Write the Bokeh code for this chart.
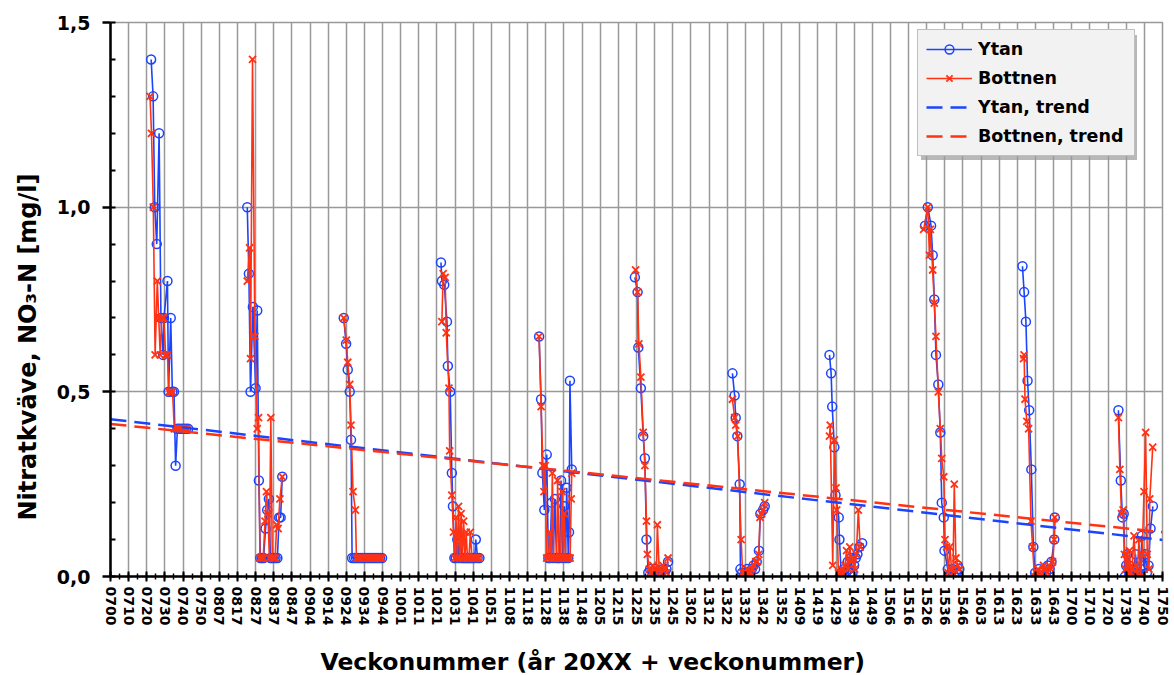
import math
import numpy as np
from bokeh.plotting import figure
from bokeh.models import Range1d, FixedTicker, CustomJSTickFormatter, Legend, LegendItem, Title
from bokeh.embed import file_html
from bokeh.resources import INLINE

NaN = float("nan")

# x tick labels (år+vecka), one per 10 weeks starting at week index 0
tick_labels = ["0700", "0710", "0720", "0730", "0740", "0750", "0807", "0817", "0827", "0837",
               "0847", "0904", "0914", "0924", "0934", "0944", "1001", "1011", "1021", "1031",
               "1041", "1051", "1108", "1118", "1128", "1138", "1148", "1205", "1215", "1225",
               "1235", "1245", "1302", "1312", "1322", "1332", "1342", "1352", "1409", "1419",
               "1429", "1439", "1449", "1506", "1516", "1526", "1536", "1546", "1603", "1613",
               "1623", "1633", "1643", "1700", "1710", "1720", "1730", "1740", "1750"]

# Ytan (surface) — week index since 0700, NaN separates seasons
ytan_week = [
    22.4, 23.5, 24.4, 25.5, 26.8, 27.8, 29.0, 29.5, 31.4, 32.0, 33.2, 34.1, 35.0, 35.9, 36.9, 38.0, 39.2, 40.4, 41.6, 42.8, NaN,
    75.4, 76.3, 77.2, 78.5, 80.0, 80.9, 81.8, 82.6, 83.5, 84.4, 85.5, 86.4, 87.3, 88.2, 89.1, 90.0, 91.0, 92.0, 93.0, 93.8, 94.7, NaN,
    128.6, 129.9, 130.8, 131.9, 132.6, 133.2, 134.3, 135.4, 136.5, 137.6, 138.7, 139.8, 140.9, 142.0, 143.1, 144.2, 145.3, 146.4, 147.5, 148.6, 149.7, NaN,
    182.2, 182.7, 184.0, 185.5, 186.0, 187.3, 188.2, 188.8, 189.6, 190.4, 191.2, 192.0, 192.8, 193.6, 194.4, 195.2, 196.0, 196.8, 197.6, 198.4, 199.2, 200.0, 200.8, 201.4, 202.4, 203.4, NaN,
    236.3, 237.4, 238.1, 239.2, 240.5, 241.4, 242.3, 243.2, 244.1, 245.0, 245.9, 246.8, 247.6, 248.4, 249.3, 250.2, 250.9, 251.5, 252.4, 252.8, 253.3, 254.3, NaN,
    289.1, 290.6, 291.0, 292.4, 293.7, 294.6, 295.5, 296.5, 297.5, 298.5, 299.5, 300.5, 301.5, 302.5, 303.5, 304.5, 305.5, 306.5, 307.4, NaN,
    342.9, 344.1, 344.7, 345.6, 346.9, 347.3, 348.2, 349.1, 350.0, 350.9, 351.8, 352.7, 353.6, 354.5, 355.4, 356.3, 357.5, 358.3, 359.8, 360.7, NaN,
    396.4, 397.3, 397.9, 399.1, 399.7, 401.5, 401.9, 402.8, 403.7, 404.6, 405.5, 406.4, 407.3, 408.2, 409.1, 410.0, 410.9, 411.8, 412.9, 414.4, NaN,
    449.1, 450.6, 452.4, 453.3, 454.2, 455.1, 456.4, 457.5, 458.3, 459.4, 459.8, 461.6, 462.5, 463.4, 464.3, 465.2, 466.1, 467.1, 468.0, NaN,
    502.8, 503.7, 504.7, 505.6, 506.5, 507.7, 508.8, 509.8, 510.8, 511.8, 512.8, 513.8, 514.8, 515.8, 516.8, 517.8, 518.8, 520.3, 520.6, NaN,
    555.7, 557.0, 557.9, 558.6, 559.3, 560.0, 560.6, 561.5, 562.4, 563.3, 564.2, 565.1, 566.0, 566.9, 567.8, 568.7, 569.6, 570.5, 571.4, 572.3, 573.4, 574.7,
]
ytan_value = [
    1.40, 1.30, 1.00, 0.90, 1.20, 0.70, 0.60, 0.70, 0.80, 0.50, 0.70, 0.50, 0.50, 0.30, 0.40, 0.40, 0.40, 0.40, 0.40, 0.40, NaN,
    1.00, 0.82, 0.50, 0.73, 0.51, 0.72, 0.26, 0.05, 0.05, 0.05, 0.13, 0.18, 0.21, 0.05, 0.05, 0.05, 0.05, 0.05, 0.16, 0.16, 0.27, NaN,
    0.70, 0.63, 0.56, 0.50, 0.37, 0.05, 0.05, 0.05, 0.05, 0.05, 0.05, 0.05, 0.05, 0.05, 0.05, 0.05, 0.05, 0.05, 0.05, 0.05, 0.05, NaN,
    0.85, 0.80, 0.79, 0.69, 0.57, 0.50, 0.28, 0.19, 0.05, 0.05, 0.10, 0.05, 0.11, 0.05, 0.05, 0.05, 0.05, 0.05, 0.05, 0.05, 0.05, 0.05, 0.05, 0.10, 0.05, 0.05, NaN,
    0.65, 0.48, 0.28, 0.18, 0.33, 0.05, 0.05, 0.20, 0.05, 0.21, 0.05, 0.05, 0.05, 0.26, 0.05, 0.19, 0.05, 0.24, 0.05, 0.12, 0.53, 0.29, NaN,
    0.81, 0.77, 0.62, 0.51, 0.38, 0.32, 0.10, 0.01, 0.02, 0.00, 0.01, 0.02, 0.01, 0.00, 0.01, 0.02, 0.01, 0.02, 0.04, NaN,
    0.55, 0.49, 0.43, 0.38, 0.25, 0.02, 0.01, 0.00, 0.01, 0.02, 0.01, 0.00, 0.02, 0.03, 0.02, 0.04, 0.07, 0.17, 0.18, 0.19, NaN,
    0.60, 0.55, 0.46, 0.35, 0.22, 0.16, 0.10, 0.01, 0.00, 0.02, 0.01, 0.04, 0.02, 0.05, 0.01, 0.03, 0.05, 0.06, 0.08, 0.09, NaN,
    0.95, 1.00, 0.95, 0.87, 0.75, 0.60, 0.52, 0.39, 0.20, 0.16, 0.07, 0.02, 0.00, 0.01, 0.02, 0.00, 0.01, 0.03, 0.02, NaN,
    0.84, 0.77, 0.69, 0.53, 0.45, 0.29, 0.08, 0.01, 0.00, 0.02, 0.01, 0.00, 0.02, 0.01, 0.03, 0.02, 0.04, 0.10, 0.16, NaN,
    0.45, 0.26, 0.16, 0.17, 0.00, 0.03, 0.06, 0.03, 0.01, 0.00, 0.02, 0.06, 0.01, 0.00, 0.02, 0.11, 0.03, 0.06, 0.01, 0.03, 0.13, 0.19,
]

# Bottnen (bottom)
bottnen_week = [
    21.8, 22.6, 23.6, 24.6, 25.8, 26.6, 27.4, 28.3, 29.4, 30.4, 31.4, 32.2, 33.2, 34.2, 35.2, 36.2, 37.4, 38.6, 39.8, 41.0, 42.2, NaN,
    75.4, 76.7, 77.2, 78.3, 79.6, 80.9, 81.6, 82.4, 83.3, 84.2, 85.2, 86.0, 86.8, 87.6, 88.4, 89.2, 90.0, 90.8, 91.6, 92.4, 93.4, 94.7, NaN,
    128.6, 130.0, 130.8, 131.9, 132.6, 133.7, 135.0, 135.6, 136.5, 137.6, 138.7, 139.8, 140.9, 142.0, 143.1, 144.2, 145.3, 146.4, 147.5, 148.6, 149.7, NaN,
    182.7, 183.4, 184.5, 185.1, 186.6, 187.0, 188.2, 189.1, 189.8, 190.5, 191.2, 191.9, 192.6, 193.3, 194.0, 194.7, 195.4, 196.1, 196.8, 197.6, 198.4, 199.2, 200.0, 200.8, 201.6, 202.4, 203.2, NaN,
    236.3, 237.4, 238.4, 239.0, 239.6, 240.5, 241.4, 242.3, 243.0, 243.6, 244.4, 245.2, 246.0, 246.5, 247.3, 248.2, 249.0, 249.7, 250.2, 251.0, 251.8, 252.6, 253.4, 254.0, 254.3, NaN,
    289.5, 290.6, 291.3, 292.4, 293.7, 294.6, 295.5, 296.0, 297.0, 298.0, 299.0, 300.0, 301.0, 301.5, 302.5, 303.5, 304.5, 305.5, 306.5, 307.4, NaN,
    342.9, 344.1, 344.7, 345.8, 347.7, 348.5, 349.4, 350.3, 351.2, 352.1, 353.0, 353.9, 354.8, 355.7, 356.6, 357.4, 358.1, 359.0, 359.8, 360.7, NaN,
    396.4, 396.8, 398.2, 399.1, 400.0, 400.4, 401.3, 402.2, 403.1, 404.0, 404.9, 405.8, 406.7, 407.6, 408.5, 409.4, 410.3, 411.2, 412.3, 413.3, NaN,
    448.3, 450.6, 451.5, 452.0, 453.3, 454.2, 455.1, 456.4, 457.5, 458.3, 459.4, 460.1, 461.0, 461.9, 462.8, 463.7, 464.5, 465.2, 466.1, 467.1, 468.0, NaN,
    503.4, 503.7, 504.2, 505.2, 506.2, 507.5, 508.4, 509.4, 510.4, 511.4, 512.4, 513.4, 514.4, 515.4, 516.4, 517.4, 518.4, 519.4, 520.3, 520.6, NaN,
    555.7, 556.5, 557.4, 558.3, 559.0, 559.7, 560.4, 561.1, 561.8, 562.5, 563.2, 564.3, 565.2, 566.1, 567.0, 567.9, 568.8, 569.8, 570.7, 571.6, 572.5, 573.0, 574.6,
]
bottnen_value = [
    1.30, 1.20, 1.00, 0.60, 0.80, 0.70, 0.60, 0.70, 0.70, 0.60, 0.60, 0.50, 0.50, 0.50, 0.40, 0.40, 0.40, 0.40, 0.40, 0.40, 0.40, NaN,
    0.80, 0.89, 0.59, 1.40, 0.65, 0.40, 0.43, 0.05, 0.05, 0.05, 0.15, 0.23, 0.17, 0.05, 0.43, 0.05, 0.05, 0.05, 0.14, 0.13, 0.21, 0.27, NaN,
    0.70, 0.64, 0.58, 0.52, 0.41, 0.23, 0.18, 0.05, 0.05, 0.05, 0.05, 0.05, 0.05, 0.05, 0.05, 0.05, 0.05, 0.05, 0.05, 0.05, 0.05, NaN,
    0.69, 0.82, 0.81, 0.66, 0.51, 0.34, 0.22, 0.12, 0.05, 0.16, 0.05, 0.19, 0.05, 0.17, 0.05, 0.15, 0.05, 0.12, 0.05, 0.05, 0.12, 0.05, 0.05, 0.05, 0.05, 0.05, 0.05, NaN,
    0.65, 0.46, 0.30, 0.23, 0.30, 0.05, 0.05, 0.12, 0.05, 0.28, 0.05, 0.05, 0.05, 0.26, 0.05, 0.05, 0.23, 0.05, 0.17, 0.05, 0.05, 0.05, 0.05, 0.21, 0.28, NaN,
    0.83, 0.77, 0.63, 0.54, 0.39, 0.30, 0.15, 0.06, 0.02, 0.01, 0.03, 0.02, 0.01, 0.14, 0.02, 0.01, 0.03, 0.02, 0.01, 0.05, NaN,
    0.48, 0.43, 0.41, 0.38, 0.10, 0.01, 0.00, 0.01, 0.02, 0.01, 0.00, 0.02, 0.03, 0.04, 0.04, 0.06, 0.16, 0.17, 0.18, 0.20, NaN,
    0.38, 0.41, 0.03, 0.37, 0.24, 0.18, 0.01, 0.00, 0.02, 0.01, 0.03, 0.07, 0.02, 0.08, 0.04, 0.05, 0.02, 0.06, 0.18, 0.08, NaN,
    0.94, 1.00, 0.87, 0.94, 0.83, 0.74, 0.65, 0.50, 0.40, 0.32, 0.27, 0.10, 0.08, 0.01, 0.08, 0.02, 0.01, 0.25, 0.05, 0.03, 0.02, NaN,
    0.59, 0.60, 0.48, 0.42, 0.40, 0.15, 0.08, 0.00, 0.01, 0.02, 0.00, 0.01, 0.03, 0.02, 0.01, 0.03, 0.02, 0.04, 0.10, 0.16, NaN,
    0.43, 0.29, 0.17, 0.18, 0.06, 0.02, 0.06, 0.00, 0.07, 0.01, 0.02, 0.11, 0.03, 0.01, 0.10, 0.00, 0.06, 0.23, 0.39, 0.06, 0.02, 0.21, 0.35,
]

# Linear trends (end points)
trend_week = [0, 580]
ytan_trend = [0.426, 0.099]
bottnen_trend = [0.413, 0.120]

BLUE = "#1A44FF"
RED = "#FF3214"
GRID = "#999999"
FONT = "DejaVu Sans"

p = figure(width=1174, height=675, output_backend="svg", toolbar_location=None,
           x_range=Range1d(0, 580), y_range=Range1d(0, 1.5),
           min_border_left=108, min_border_right=12, min_border_top=22, min_border_bottom=99)
p.background_fill_color = "white"
p.border_fill_color = "white"
p.outline_line_color = GRID
p.outline_line_width = 1.5

# axes
xa = p.xaxis[0]
xa.ticker = FixedTicker(ticks=list(range(0, 581, 10)), minor_ticks=list(range(0, 581, 5)))
xa.formatter = CustomJSTickFormatter(args=dict(labels=tick_labels),
                                     code="const i = Math.round(tick / 10); return (i >= 0 && i < labels.length) ? labels[i] : '';")
xa.major_label_orientation = -math.pi / 2
xa.major_label_text_font = FONT
xa.major_label_text_font_style = "bold"
xa.major_label_text_font_size = "14px"
xa.major_label_text_color = "black"
xa.major_label_standoff = 5
xa.axis_line_color = "black"
xa.axis_line_width = 2.5
xa.major_tick_line_color = "black"
xa.major_tick_line_width = 2
xa.major_tick_in = 5
xa.major_tick_out = 5
xa.minor_tick_line_color = "black"
xa.minor_tick_line_width = 1.5
xa.minor_tick_in = 3
xa.minor_tick_out = 3
# blank spacer label: pushes the axis title (below) down to the figure's bottom edge
xa.axis_label = " "
xa.axis_label_text_font_size = "1px"
xa.axis_label_standoff = 13

ya = p.yaxis[0]
ya.ticker = FixedTicker(ticks=[0, 0.5, 1.0, 1.5], minor_ticks=[i / 10 for i in range(16)])
ya.formatter = CustomJSTickFormatter(code="return tick.toFixed(1).replace('.', ',');")
ya.major_label_text_font = FONT
ya.major_label_text_font_style = "bold"
ya.major_label_text_font_size = "19px"
ya.major_label_text_color = "black"
ya.major_label_standoff = 12
ya.axis_line_color = "black"
ya.axis_line_width = 2.5
ya.major_tick_line_color = "black"
ya.major_tick_line_width = 2.5
ya.major_tick_in = 0
ya.major_tick_out = 8
ya.minor_tick_line_color = "black"
ya.minor_tick_line_width = 2
ya.minor_tick_in = 5
ya.minor_tick_out = 0

# axis titles (left-shifted / lowered as in the original chart)
x_title = Title(text="Veckonummer (år 20XX + veckonummer)", align="left", offset=210, standoff=0,
                text_font=FONT, text_font_style="bold", text_font_size="23.5px", text_color="black")
p.add_layout(x_title, "below")
y_title = Title(text="Nitratkväve, NO₃-N [mg/l]", align="left", offset=56, standoff=23,
                text_font=FONT, text_font_style="bold", text_font_size="24px", text_color="black")
p.add_layout(y_title, "left")

p.xgrid.grid_line_color = GRID
p.xgrid.grid_line_width = 1.5
p.ygrid.grid_line_color = GRID
p.ygrid.grid_line_width = 1.5

yw = np.array(ytan_week, dtype=float)
yv = np.array(ytan_value, dtype=float)
bw = np.array(bottnen_week, dtype=float)
bv = np.array(bottnen_value, dtype=float)

r_yl = p.line(yw, yv, line_color=BLUE, line_width=1.6)
r_ys = p.scatter(yw, yv, marker="circle", size=9, fill_color=None, line_color=BLUE, line_width=1.5)
r_bl = p.line(bw, bv, line_color=RED, line_width=1.6)
r_bs = p.scatter(bw, bv, marker="x", size=10, line_color=RED, line_width=1.8)
r_yt = p.line(trend_week, ytan_trend, line_color=BLUE, line_width=2.5, line_dash="16 8")
r_bt = p.line(trend_week, bottnen_trend, line_color=RED, line_width=2.5, line_dash="16 8")

# invisible renderer used only to size the legend shadow box
r_ghost = p.line([NaN], [NaN], line_alpha=0)
shadow = Legend(items=[LegendItem(label=" ", renderers=[r_ghost])], location=(811, 416))
shadow.label_text_font_size = "1px"
shadow.label_text_alpha = 0
shadow.glyph_width = 200
shadow.glyph_height = 109
shadow.label_width = 0
shadow.label_height = 0
shadow.label_standoff = 0
shadow.padding = 8
shadow.margin = 0
shadow.background_fill_color = "#9a9a9a"
shadow.background_fill_alpha = 0.7
shadow.border_line_alpha = 0
p.add_layout(shadow)

legend = Legend(items=[
    LegendItem(label="Ytan", renderers=[r_yl, r_ys]),
    LegendItem(label="Bottnen", renderers=[r_bl, r_bs]),
    LegendItem(label="Ytan, trend", renderers=[r_yt]),
    LegendItem(label="Bottnen, trend", renderers=[r_bt]),
], location=(807, 420))
legend.label_text_font = FONT
legend.label_text_font_style = "bold"
legend.label_text_font_size = "17.5px"
legend.label_text_color = "black"
legend.glyph_width = 46
legend.glyph_height = 22
legend.label_height = 22
legend.label_width = 148
legend.label_standoff = 6
legend.spacing = 7
legend.padding = 8
legend.margin = 0
legend.background_fill_color = "#f2f2f2"
legend.background_fill_alpha = 1.0
legend.border_line_color = "#8c8c8c"
legend.border_line_width = 1
p.add_layout(legend)

open("out.html", "w").write(file_html(p, INLINE))
